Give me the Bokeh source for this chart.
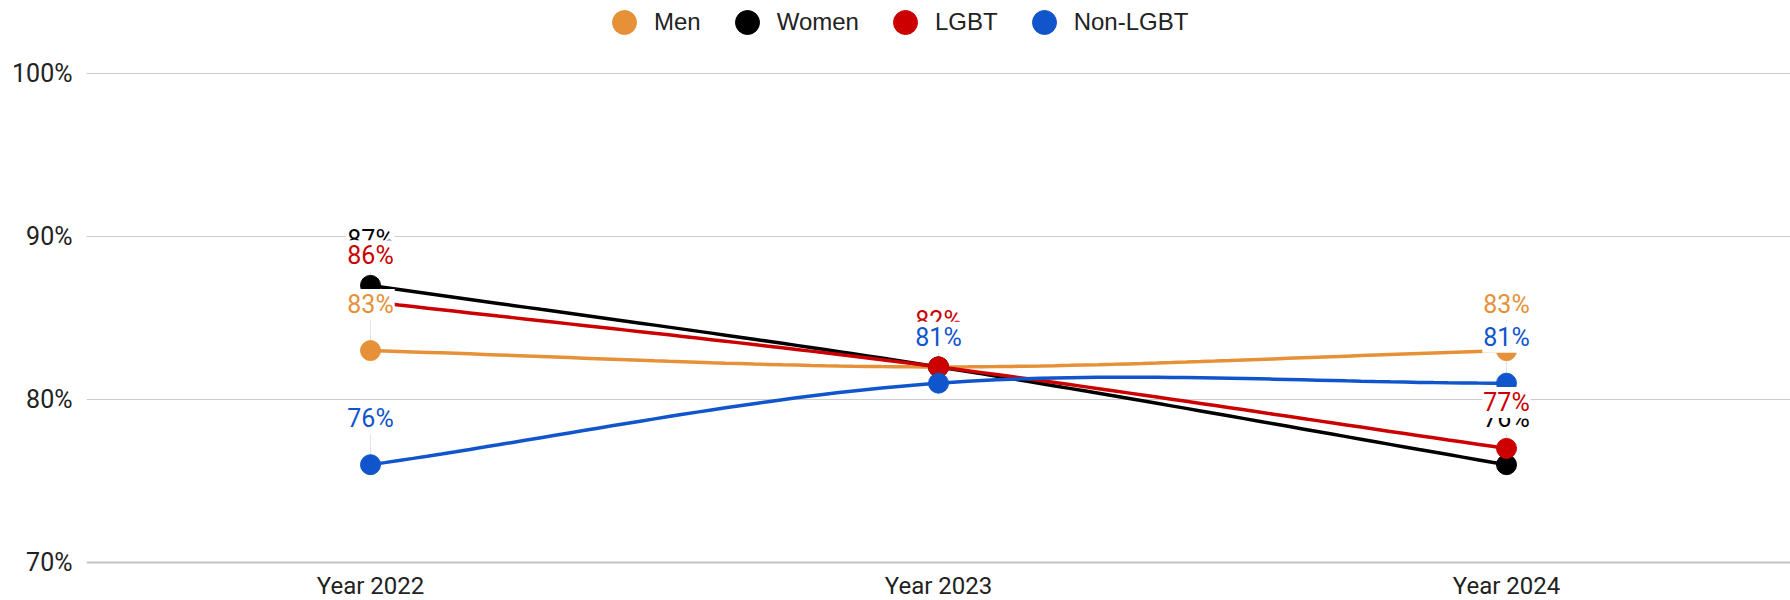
import numpy as np
from bokeh.plotting import figure
from bokeh.models import Range1d, FixedTicker, Legend, LegendItem, ColumnDataSource
from bokeh.core.properties import value
from bokeh.embed import file_html
from bokeh.resources import INLINE

categories = ["Year 2022", "Year 2023", "Year 2024"]
series_names = ["Men", "Women", "LGBT", "Non-LGBT"]
men = [83, 82, 83]
women = [87, 82, 76]
lgbt = [86, 82, 77]
non_lgbt = [76, 81, 81]
colors = ["#e69138", "#000000", "#cc0000", "#1155cc"]
y_ticks = [70, 80, 90, 100]

series_values = [men, women, lgbt, non_lgbt]

PX_PER_PT = 489 / 30.0
Y_TOP = 100 + 73 / PX_PER_PT
Y_BOTTOM = 70 - 38 / PX_PER_PT
LABEL_OFF_PX = 46


def smooth(xs, ys, n=40):
    xs = np.asarray(xs, float)
    ys = np.asarray(ys, float)
    k = len(xs)
    m = np.zeros(k)
    for i in range(k):
        if i == 0:
            m[i] = (ys[1] - ys[0]) / (xs[1] - xs[0])
        elif i == k - 1:
            m[i] = (ys[-1] - ys[-2]) / (xs[-1] - xs[-2])
        else:
            m[i] = (ys[i + 1] - ys[i - 1]) / (xs[i + 1] - xs[i - 1])
    ox, oy = [], []
    for i in range(k - 1):
        h = xs[i + 1] - xs[i]
        t = np.linspace(0, 1, n, endpoint=(i == k - 2))
        h00 = 2 * t**3 - 3 * t**2 + 1
        h10 = t**3 - 2 * t**2 + t
        h01 = -2 * t**3 + 3 * t**2
        h11 = t**3 - t**2
        ox.extend(xs[i] + h * t)
        oy.extend(h00 * ys[i] + h10 * h * m[i] + h01 * ys[i + 1] + h11 * h * m[i + 1])
    return ox, oy


p = figure(width=1790, height=600, output_backend="svg", toolbar_location=None,
           x_range=Range1d(-0.5, len(categories) - 0.5), y_range=Range1d(Y_BOTTOM, Y_TOP),
           x_axis_location=None,
           min_border_left=86, min_border_right=0, min_border_top=0, min_border_bottom=0)
p.outline_line_color = None
p.background_fill_color = "white"
p.border_fill_color = "white"
p.xgrid.grid_line_color = None

xs = list(range(len(categories)))

p.yaxis.ticker = FixedTicker(ticks=y_ticks)
p.yaxis.major_label_overrides = {v: f"{v}%" for v in y_ticks}
p.yaxis.major_tick_line_color = None
p.yaxis.minor_tick_line_color = None
p.yaxis.major_tick_out = 0
p.yaxis.major_tick_in = 0
p.yaxis.minor_tick_out = 0
p.yaxis.minor_tick_in = 0
p.yaxis.axis_line_color = None
p.yaxis.major_label_text_font = "Roboto"
p.yaxis.major_label_text_font_size = "25px"
p.yaxis.major_label_text_color = "#222222"
p.yaxis.major_label_standoff = 14
p.ygrid.grid_line_color = "#cccccc"
p.ygrid.grid_line_width = 1.2

# baseline (category axis line)
p.segment(x0=[-0.5], y0=[y_ticks[0]], x1=[len(categories) - 0.5], y1=[y_ticks[0]],
          line_color="#c4c4c4", line_width=2)

# category labels under the baseline
cat_src = ColumnDataSource(dict(x=xs, y=[y_ticks[0]] * len(xs), t=categories))
p.text(x="x", y="y", text="t", source=cat_src, y_offset=23,
       text_align="center", text_baseline="middle",
       text_font=value("Roboto"), text_font_size="24px", text_color="#222222")

stem_len = LABEL_OFF_PX / PX_PER_PT

# stems
for vals in series_values:
    p.segment(x0=xs, y0=vals, x1=xs, y1=[v + stem_len * 0.7 for v in vals],
              line_color="#e3e3e3", line_width=1)

items = []
for name, vals, col in zip(series_names, series_values, colors):
    sx, sy = smooth(xs, vals)
    p.line(sx, sy, line_color=col, line_width=3.5)
for name, vals, col in zip(series_names, series_values, colors):
    r = p.scatter(xs, vals, size=20, fill_color=col, line_color=col)
    items.append(LegendItem(label=name, renderers=[r]))

for name, vals, col in zip(series_names, series_values, colors):
    src = ColumnDataSource(dict(x=xs, y=vals, t=[f"{v}%" for v in vals]))
    p.text(x="x", y="y", text="t", source=src, y_offset=-LABEL_OFF_PX,
           text_align="center", text_baseline="middle",
           text_font=value("Roboto"), text_font_size="25px", text_color=col,
           background_fill_color="white", padding=1)

legend = Legend(items=items, orientation="horizontal", location=(508, 548),
                glyph_width=60, glyph_height=60, label_standoff=0, spacing=16,
                padding=0, margin=0, border_line_color=None,
                background_fill_alpha=0,
                label_text_font="Liberation Sans", label_text_font_size="24px",
                label_text_color="#222222")
p.add_layout(legend, "center")

open("out.html", "w").write(file_html(p, INLINE))
